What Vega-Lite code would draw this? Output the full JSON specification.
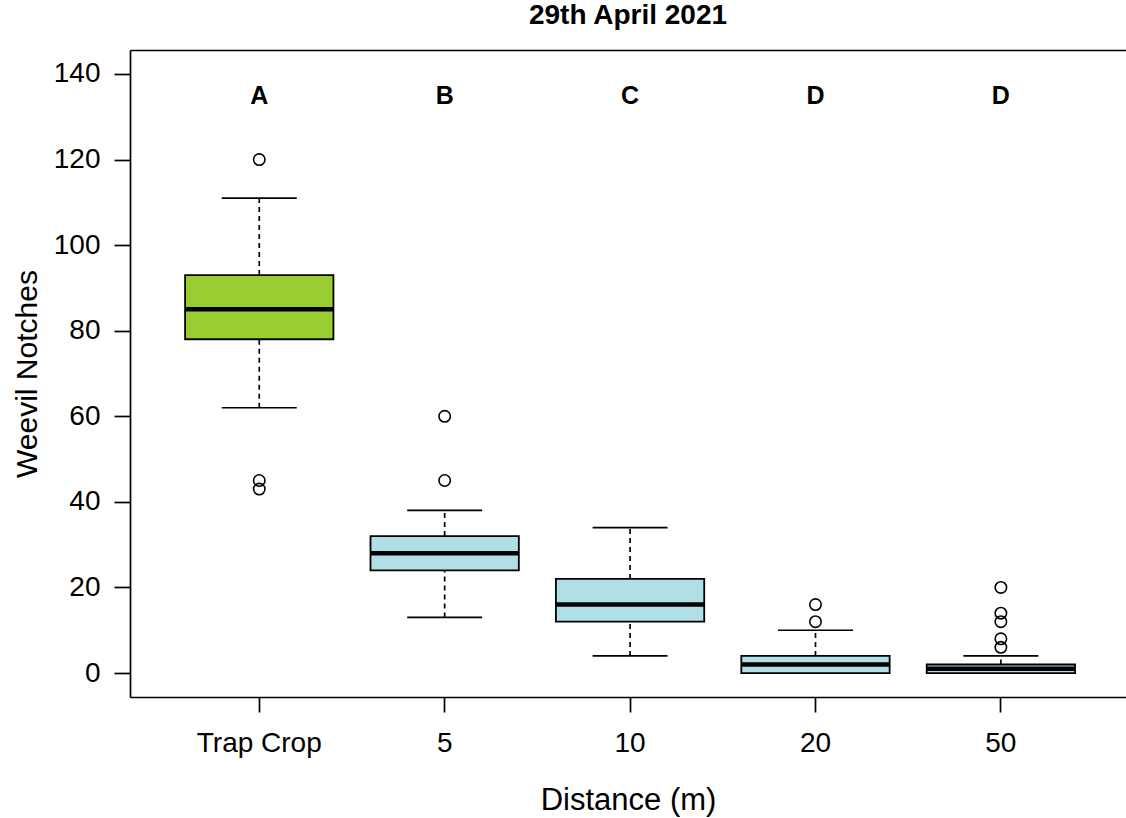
{
  "$schema": "https://vega.github.io/schema/vega-lite/v6.json",
  "width": 996,
  "height": 647,
  "autosize": {"type": "none"},
  "padding": {"left": 130, "top": 50, "right": 0, "bottom": 121},
  "background": "white",
  "config": {
    "view": {"stroke": null},
    "font": "Liberation Sans",
    "axis": {
      "grid": false,
      "domainColor": "#000",
      "tickColor": "#000",
      "labelColor": "#000",
      "titleColor": "#000",
      "domainWidth": 1.7,
      "tickWidth": 1.7,
      "labelFont": "Liberation Sans",
      "titleFont": "Liberation Sans",
      "titleFontWeight": "normal"
    }
  },
  "title": {
    "text": "29th April 2021",
    "fontSize": 28,
    "font": "Liberation Sans",
    "fontWeight": "bold",
    "color": "#000",
    "anchor": "middle",
    "frame": "group",
    "baseline": "alphabetic",
    "offset": -2
  },
  "datasets": {
    "stats": [
      {"group": "Trap Crop", "lower": 62, "q1": 78, "median": 85, "q3": 93, "upper": 111, "letter": "A"},
      {"group": "5", "lower": 13, "q1": 24, "median": 28, "q3": 32, "upper": 38, "letter": "B"},
      {"group": "10", "lower": 4, "q1": 12, "median": 16, "q3": 22, "upper": 34, "letter": "C"},
      {"group": "20", "lower": 0, "q1": 0, "median": 2, "q3": 4, "upper": 10, "letter": "D"},
      {"group": "50", "lower": 0, "q1": 0, "median": 1, "q3": 2, "upper": 4, "letter": "D"}
    ],
    "outliers": [
      {"group": "Trap Crop", "value": 120},
      {"group": "Trap Crop", "value": 45},
      {"group": "Trap Crop", "value": 43},
      {"group": "5", "value": 60},
      {"group": "5", "value": 45},
      {"group": "20", "value": 16},
      {"group": "20", "value": 12},
      {"group": "50", "value": 20},
      {"group": "50", "value": 14},
      {"group": "50", "value": 12},
      {"group": "50", "value": 8},
      {"group": "50", "value": 6}
    ]
  },
  "layer": [
    {
      "data": {"name": "stats"},
      "mark": {"type": "rule", "color": "#000", "strokeWidth": 1.7, "strokeDash": [5, 4]},
      "encoding": {
        "x": {
          "field": "group", "type": "nominal",
          "scale": {"type": "band", "domain": ["Trap Crop", "5", "10", "20", "50"], "paddingInner": 0, "paddingOuter": 0.186, "align": 0.53},
          "axis": {"orient": "bottom", "title": "Distance (m)", "titleFontSize": 31, "labelFontSize": 28, "labelAngle": 0, "tickSize": 15, "labelPadding": 17, "titlePadding": 52, "titleBaseline": "alphabetic"}
        },
        "y": {
          "field": "q3", "type": "quantitative",
          "scale": {"domain": [-5.6, 145.6], "nice": false, "zero": false},
          "axis": {"orient": "left", "title": "Weevil Notches", "titleFontSize": 30, "labelFontSize": 28, "tickSize": 16, "labelPadding": 14, "values": [0, 20, 40, 60, 80, 100, 120, 140], "titlePadding": 17, "titleBaseline": "alphabetic"}
        },
        "y2": {"field": "upper"}
      }
    },
    {
      "data": {"name": "stats"},
      "mark": {"type": "rule", "color": "#000", "strokeWidth": 1.7, "strokeDash": [5, 4]},
      "encoding": {
        "x": {"field": "group", "type": "nominal", "axis": null},
        "y": {"field": "lower", "type": "quantitative", "axis": {"orient": "left", "title": "Weevil Notches", "titleFontSize": 30, "labelFontSize": 28, "tickSize": 16, "labelPadding": 14, "values": [0, 20, 40, 60, 80, 100, 120, 140], "titlePadding": 17, "titleBaseline": "alphabetic"}},
        "y2": {"field": "q1"}
      }
    },
    {
      "data": {"name": "stats"},
      "mark": {"type": "tick", "orient": "horizontal", "color": "#000", "size": 75, "thickness": 1.7, "opacity": 1},
      "encoding": {
        "x": {"field": "group", "type": "nominal", "axis": null},
        "y": {"field": "upper", "type": "quantitative", "axis": {"orient": "left", "title": "Weevil Notches", "titleFontSize": 30, "labelFontSize": 28, "tickSize": 16, "labelPadding": 14, "values": [0, 20, 40, 60, 80, 100, 120, 140], "titlePadding": 17, "titleBaseline": "alphabetic"}}
      }
    },
    {
      "data": {"name": "stats"},
      "mark": {"type": "tick", "orient": "horizontal", "color": "#000", "size": 75, "thickness": 1.7, "opacity": 1},
      "encoding": {
        "x": {"field": "group", "type": "nominal", "axis": null},
        "y": {"field": "lower", "type": "quantitative", "axis": {"orient": "left", "title": "Weevil Notches", "titleFontSize": 30, "labelFontSize": 28, "tickSize": 16, "labelPadding": 14, "values": [0, 20, 40, 60, 80, 100, 120, 140], "titlePadding": 17, "titleBaseline": "alphabetic"}}
      }
    },
    {
      "data": {"name": "stats"},
      "mark": {"type": "bar", "width": {"band": 0.8}, "stroke": "#000", "strokeWidth": 1.8, "opacity": 1},
      "encoding": {
        "x": {"field": "group", "type": "nominal", "axis": null},
        "y": {"field": "q1", "type": "quantitative", "axis": {"orient": "left", "title": "Weevil Notches", "titleFontSize": 30, "labelFontSize": 28, "tickSize": 16, "labelPadding": 14, "values": [0, 20, 40, 60, 80, 100, 120, 140], "titlePadding": 17, "titleBaseline": "alphabetic"}},
        "y2": {"field": "q3"},
        "color": {
          "field": "group", "type": "nominal",
          "scale": {"domain": ["Trap Crop", "5", "10", "20", "50"], "range": ["#9ACD32", "#B0E0E6", "#B0E0E6", "#B0E0E6", "#B0E0E6"]},
          "legend": null
        }
      }
    },
    {
      "data": {"name": "stats"},
      "mark": {"type": "tick", "orient": "horizontal", "color": "#000", "size": 148, "thickness": 4.5, "opacity": 1},
      "encoding": {
        "x": {"field": "group", "type": "nominal", "axis": null},
        "y": {"field": "median", "type": "quantitative", "axis": {"orient": "left", "title": "Weevil Notches", "titleFontSize": 30, "labelFontSize": 28, "tickSize": 16, "labelPadding": 14, "values": [0, 20, 40, 60, 80, 100, 120, 140], "titlePadding": 17, "titleBaseline": "alphabetic"}}
      }
    },
    {
      "data": {"name": "outliers"},
      "mark": {"type": "point", "shape": "circle", "filled": false, "stroke": "#000", "strokeWidth": 1.6, "size": 130, "opacity": 1},
      "encoding": {
        "x": {"field": "group", "type": "nominal", "axis": null},
        "y": {"field": "value", "type": "quantitative", "axis": {"orient": "left", "title": "Weevil Notches", "titleFontSize": 30, "labelFontSize": 28, "tickSize": 16, "labelPadding": 14, "values": [0, 20, 40, 60, 80, 100, 120, 140], "titlePadding": 17, "titleBaseline": "alphabetic"}}
      }
    },
    {
      "data": {"name": "stats"},
      "mark": {"type": "text", "font": "Liberation Sans", "fontWeight": "bold", "fontSize": 25, "color": "#000", "align": "center", "baseline": "alphabetic"},
      "encoding": {
        "x": {"field": "group", "type": "nominal", "axis": {"orient": "top", "labels": false, "ticks": false, "title": null, "domain": true, "minExtent": 0, "maxExtent": 0}},
        "y": {"datum": 133, "type": "quantitative", "axis": {"orient": "left", "title": "Weevil Notches", "titleFontSize": 30, "labelFontSize": 28, "tickSize": 16, "labelPadding": 14, "values": [0, 20, 40, 60, 80, 100, 120, 140], "titlePadding": 17, "titleBaseline": "alphabetic"}},
        "text": {"field": "letter"}
      }
    }
  ]
}
